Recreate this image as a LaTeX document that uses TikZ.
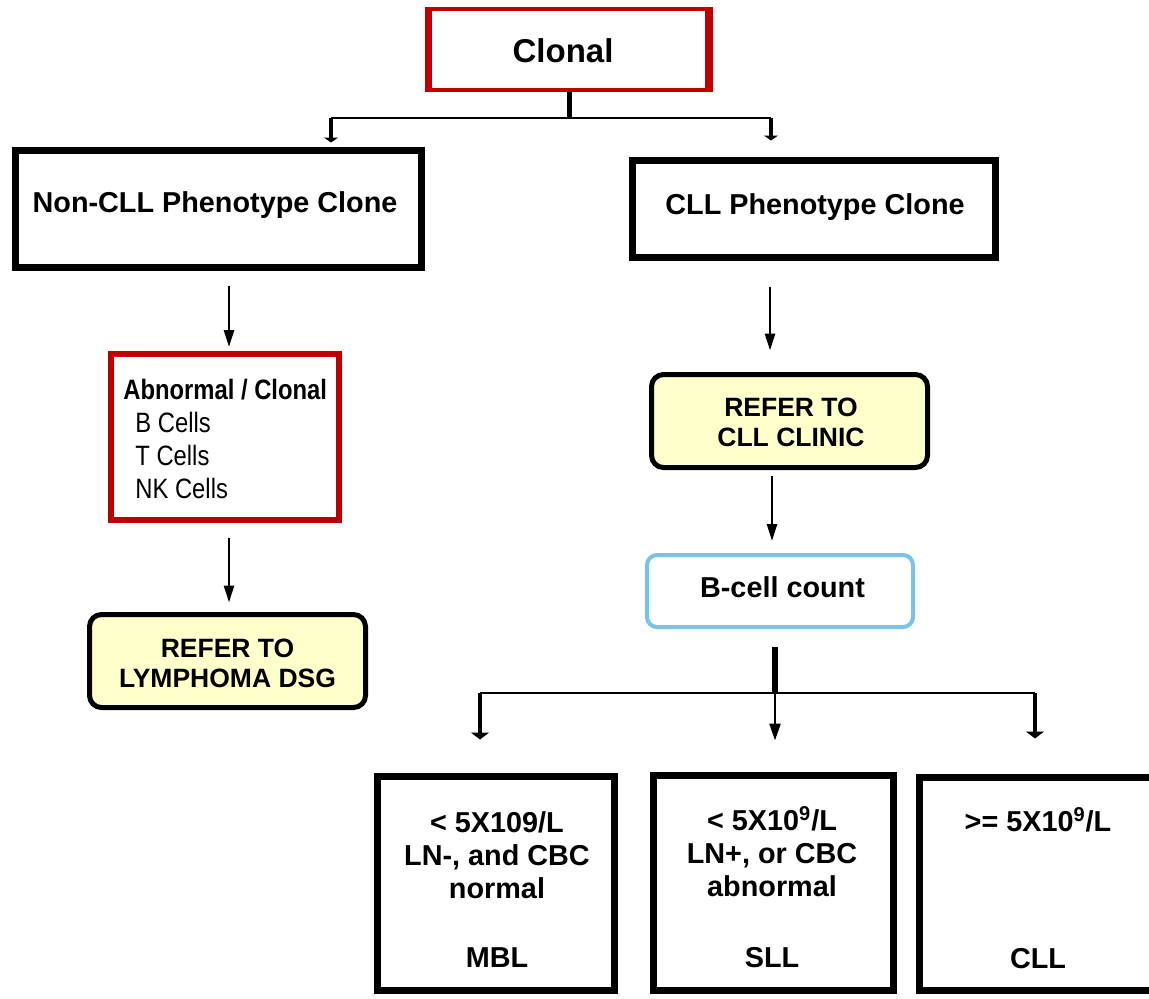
\documentclass[tikz,border=0pt]{standalone}
\usepackage{fontspec}
\setmainfont{Liberation Sans}
\newfontfamily\narrowsans[FakeStretch=0.85]{Liberation Sans}
\usetikzlibrary{arrows.meta}
\definecolor{boxred}{RGB}{192,0,0}
\definecolor{referfill}{RGB}{255,255,204}
\definecolor{countblue}{RGB}{120,195,230}

\tikzset{
  plainbox/.style={draw=black, line width=3.5pt, fill=white, inner sep=0pt},
  redbox/.style={draw=boxred, fill=white, inner sep=0pt},
  referbox/.style={draw=black, line width=2.5pt, fill=referfill, rounded corners=6pt,
    inner sep=0pt, minimum width=138pt, minimum height=46.5pt},
  countbox/.style={draw=countblue, line width=2pt, fill=white, rounded corners=5pt,
    inner sep=0pt},
  txt/.style={font=\bfseries\fontsize{14.4pt}{16.5pt}\selectfont, inner sep=0pt, align=center},
  refertxt/.style={font=\bfseries\fontsize{13.25pt}{15pt}\selectfont, inner sep=0pt, align=center},
  wire/.style={line width=1.3pt},
  branch/.style={line width=1.8pt},
  trunk/.style={line width=2.5pt},
  longtip/.style={-{Triangle[width=5pt,length=8.5pt]}},
  flattip/.style={-{Triangle[width=9pt,length=3.5pt]}},
  smallflat/.style={-{Triangle[width=7pt,length=2.5pt]}},
}

\begin{document}
\begin{tikzpicture}[x=0.5pt,y=-0.5pt]
\useasboundingbox (0,0) rectangle (1149,998);
\clip (0,0) rectangle (1149,998);

% ---------- boxes ----------
\node[redbox, line width=2pt, minimum width=138.5pt, minimum height=40.5pt] (clonal) at (568.5,49.5) {};
\draw[boxred, line width=3.5pt] (clonal.north west) -- (clonal.south west);
\draw[boxred, line width=3.5pt] (clonal.north east) -- (clonal.south east);
\node[txt, font=\bfseries\fontsize{16.5pt}{18pt}\selectfont, anchor=base] (tclonal) at (563,62) {Clonal};

\node[plainbox, minimum width=203pt, minimum height=58.5pt] (ncll) at (218.5,209) {};
\node[txt, anchor=base] (tncll) at (215,212) {Non-CLL Phenotype Clone};

\node[plainbox, minimum width=181.5pt, minimum height=48.5pt] (cll) at (814,209) {};
\node[txt, anchor=base] (tcll) at (815,214) {CLL Phenotype Clone};

\node[redbox, line width=3pt, minimum width=114pt, minimum height=83pt] (abn) at (225,437) {};
\node[inner sep=0pt, align=left, anchor=north west,
      font=\narrowsans\fontsize{14pt}{16.5pt}\selectfont] (tabn) at (123,379)
  {\bfseries Abnormal / Clonal\\
   \hspace*{6pt}B Cells\\
   \hspace*{6pt}T Cells\\
   \hspace*{6pt}NK Cells};

\node[referbox] (reflym) at (227.5,661) {};
\node[refertxt, anchor=north] (treflym) at (227.5,639) {REFER TO\\LYMPHOMA DSG};

\node[referbox] (refcll) at (789.5,421) {};
\node[refertxt, anchor=north] (trefcll) at (791,398) {REFER TO\\CLL CLINIC};

\node[countbox, minimum width=133pt, minimum height=36pt] (bcell) at (780,591) {};
\node[txt, anchor=base] (tbcell) at (782.5,597) {B-cell count};

\node[plainbox, minimum width=118.5pt, minimum height=107pt] (mbl) at (496,883.5) {};
\node[txt, anchor=north] (tmbl) at (497,811)
  {< 5X109/L\\LN-, and CBC\\normal\\[18pt]MBL};

\node[plainbox, minimum width=120pt, minimum height=107.5pt] (sll) at (773.5,883) {};
\node[txt, anchor=north] (tsll) at (772,806)
  {< 5X10\textsuperscript{9}/L\\LN+, or CBC\\abnormal\\[19pt]SLL};

\node[plainbox, minimum width=128.5pt, minimum height=106.5pt] (clls) at (1048,884) {};
\node[txt, anchor=north] (tclls) at (1038,807)
  {>= 5X10\textsuperscript{9}/L\\[52pt]CLL};

% ---------- connectors ----------
\coordinate (topmid) at (569,118);
\coordinate (topL) at (331,118);
\coordinate (topR) at (771,118);
\draw[trunk] (clonal.south -| topmid) -- (topmid);
\draw[wire] (topL) -- (topR);
\draw[branch, smallflat, shorten >=2.25pt] (topL) -- (topL |- ncll.north);
\draw[branch, smallflat, shorten >=8.25pt] (topR) -- (topR |- cll.north);

\draw[wire, longtip, shorten <=7.25pt, shorten >=2pt]
  ([xshift=5.25pt]ncll.south) -- ([xshift=2pt]abn.north);
\draw[wire, longtip, shorten <=7.5pt, shorten >=4.75pt]
  ([xshift=2pt]abn.south) -- ([xshift=0.75pt]reflym.north);

\draw[wire, longtip, shorten <=12.75pt, shorten >=10.75pt]
  ([xshift=-22pt]cll.south) -- ([xshift=-9.75pt]refcll.north);
\draw[wire, longtip, shorten <=2.75pt, shorten >=6pt]
  ([xshift=-8.75pt]refcll.south) -- ([xshift=-4pt]bcell.north);

\coordinate (botmid) at (775,693);
\coordinate (botL) at (480,693);
\coordinate (botR) at (1035,693);
\draw[line width=3pt, shorten <=9pt] ([xshift=-2.5pt]bcell.south) -- (botmid);
\draw[wire] (botL) -- (botR);
\draw[branch, flattip, shorten >=16.75pt] (botL) -- (botL |- mbl.north);
\draw[wire, -{Triangle[width=5.5pt,length=8.5pt]}, shorten >=15.75pt] (botmid) -- (botmid |- sll.north);
\draw[branch, flattip, shorten >=17.75pt] (botR) -- (botR |- clls.north);
\end{tikzpicture}
\end{document}
